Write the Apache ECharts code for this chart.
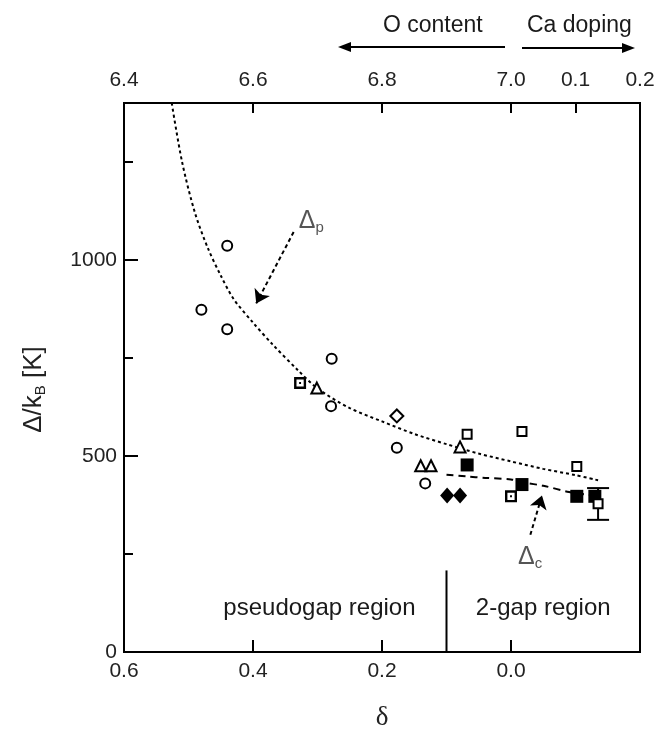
<!DOCTYPE html>
<html>
<head>
<meta charset="utf-8">
<script src="https://cdn.jsdelivr.net/npm/echarts@6/dist/echarts.min.js"></script>
<style>html,body{margin:0;padding:0;background:#fff}#main{width:661px;height:736px}</style>
</head>
<body>
<div id="main"></div>
<script>
const FONT = '"Liberation Sans", Arial, sans-serif';

// axis ticks
const deltaTicks = [0.6, 0.4, 0.2, 0.0];
const topLabels = [0.6, 0.4, 0.2, 0.0, -0.1, -0.2];   // O content 7-d, then Ca doping
const topTicks = [0.4, 0.2, 0.0, -0.1];
const yMajor = [0, 500, 1000];
const yMinor = [250, 750, 1250];

// Delta_p guide curve (dotted)
const gapP = [[0.526,1400],[0.51,1250],[0.49,1120],[0.47,1030],[0.45,960],[0.43,900],
  [0.40,840],[0.37,785],[0.33,718],[0.30,672],[0.25,622],[0.20,588],[0.15,556],
  [0.10,530],[0.05,506],[0.00,486],[-0.05,467],[-0.10,451],[-0.135,438]];
// Delta_c guide curve (dashed)
const gapC = [[0.10,452],[0.07,448],[0.04,444],[0.0,440],[-0.02,432],[-0.05,424],
  [-0.09,408],[-0.125,400]];

// measured points
const openCircles = [[0.44,1036],[0.48,873],[0.44,823],[0.278,748],[0.279,627],[0.177,521],[0.133,430]];
const openTriangles = [[0.301,673],[0.140,475],[0.124,475],[0.079,523]];
const openDiamonds = [[0.177,602]];
const openSquares = [[0.068,555],[-0.017,562],[-0.102,473],[-0.135,378]];
const dotSquares = [[0.327,686],[0.0,397]];
const filledSquares = [[0.068,477],[-0.017,427],[-0.102,397],[-0.13,397]];
const filledDiamonds = [[0.099,399],[0.079,399]];
const errorBars = [[-0.135,337,418]];

// region divider and annotations
const divider = [[0.1,0],[0.1,208]];
const regionLabels = [['pseudogap region',0.297,111],['2-gap region',-0.05,111]];
const gapLabels = [['p',0.3096,1099],['c',-0.0296,243]];
const gapArrows = [[[0.337,1071],[0.395,889]],[[-0.03,299],[-0.048,399]]];

const chart = echarts.init(document.getElementById('main'));

const dotSquarePath = 'path://M0 0H10V10H0Z M2 2V8H8V2Z M4.2 4.2H5.8V5.8H4.2Z';

function scatter(data, symbol, size, filled) {
  return {
    type: 'scatter', data: data, symbol: symbol, symbolSize: size,
    itemStyle: filled ? {color: '#000', opacity: 1} : {color: '#fff', borderColor: '#000', borderWidth: 2, opacity: 1},
    z: 5
  };
}

const option = {
  animation: false,
  backgroundColor: '#fff',
  textStyle: {fontFamily: FONT},
  grid: {left: 124, right: 21, top: 103, bottom: 80, show: true, borderColor: '#000', borderWidth: 2},
  xAxis: [{
    type: 'value', min: -0.2, max: 0.6, inverse: true, position: 'bottom',
    axisLine: {onZero: false, lineStyle: {color: '#000', width: 2}},
    axisTick: {inside: true, length: 12, lineStyle: {width: 2, color: '#000'}, customValues: deltaTicks},
    axisLabel: {customValues: deltaTicks, fontSize: 21, color: '#222', margin: 9, fontFamily: FONT,
      formatter: v => Math.abs(v).toFixed(1)},
    splitLine: {show: false},
    name: 'δ', nameLocation: 'middle', nameGap: 52,
    nameTextStyle: {fontFamily: '"Liberation Serif", "DejaVu Serif", serif', fontSize: 27, color: '#222'}
  }, {
    type: 'value', min: -0.2, max: 0.6, inverse: true, position: 'top',
    axisLine: {onZero: false, lineStyle: {color: '#000', width: 2}},
    axisTick: {inside: true, length: 10, lineStyle: {width: 2, color: '#000'}, customValues: topTicks},
    axisLabel: {customValues: topLabels, fontSize: 21, color: '#222', margin: 12, fontFamily: FONT,
      showMinLabel: true, showMaxLabel: true,
      formatter: v => v >= -0.001 ? (7 - v).toFixed(1) : (-v).toFixed(1)},
    splitLine: {show: false}
  }],
  yAxis: [{
    type: 'value', min: 0, max: 1400, position: 'left',
    axisLine: {show: true, onZero: false, lineStyle: {color: '#000', width: 2}},
    axisTick: {show: true, inside: true, length: 14, lineStyle: {width: 2, color: '#000'}, customValues: yMajor},
    axisLabel: {customValues: yMajor, fontSize: 21, color: '#222', margin: 7, fontFamily: FONT,
      formatter: v => String(v)},
    splitLine: {show: false},
    name: '{n|Δ/k}{s|B}{n| [K]}', nameLocation: 'middle', nameGap: 76, nameRotate: 90,
    nameTextStyle: {padding: [0, 24, 0, 0], rich: {
      n: {fontSize: 26, color: '#222', fontFamily: FONT},
      s: {fontSize: 15, color: '#222', fontFamily: FONT, padding: [13, 0, 0, 0]}
    }}
  }, {
    type: 'value', min: 0, max: 1400, position: 'left',
    axisLine: {show: false, onZero: false},
    axisTick: {show: true, inside: true, length: 9, lineStyle: {width: 2, color: '#000'}, customValues: yMinor},
    axisLabel: {show: false},
    splitLine: {show: false}
  }],
  series: [
    {type: 'line', data: gapP, smooth: 0.3, symbol: 'none', z: 3,
      lineStyle: {color: '#000', width: 2, type: [3, 3]},
      markLine: {silent: true, symbol: ['none', 'arrow'], symbolSize: 13, label: {show: false},
        lineStyle: {color: '#000', width: 2, type: [4, 3]},
        data: gapArrows.map(a => [{coord: a[0]}, {coord: a[1]}])}
    },
    {type: 'line', data: gapC, smooth: 0.3, symbol: 'none', z: 3,
      lineStyle: {color: '#000', width: 2, type: [7, 5]}},
    {type: 'line', data: divider, symbol: 'none', z: 3, lineStyle: {color: '#000', width: 2}},
    {type: 'custom', data: errorBars, z: 4,
      encode: {x: 0, y: [1, 2]},
      renderItem: function (params, api) {
        const x = api.value(0);
        const lo = api.coord([x, api.value(1)]);
        const hi = api.coord([x, api.value(2)]);
        const w = 11;
        const st = {stroke: '#000', lineWidth: 2};
        return {type: 'group', children: [
          {type: 'line', shape: {x1: hi[0], y1: hi[1], x2: lo[0], y2: lo[1]}, style: st},
          {type: 'line', shape: {x1: hi[0] - w, y1: hi[1], x2: hi[0] + w, y2: hi[1]}, style: st},
          {type: 'line', shape: {x1: lo[0] - w, y1: lo[1], x2: lo[0] + w, y2: lo[1]}, style: st}
        ]};
      }
    },
    scatter(openCircles, 'circle', 10, false),
    scatter(openTriangles, 'triangle', 11, false),
    scatter(openDiamonds, 'diamond', 13, false),
    scatter(filledSquares, 'rect', 13, true),
    scatter(filledDiamonds, 'diamond', [14, 16], true),
    scatter(openSquares, 'rect', 9, false),
    {type: 'scatter', data: dotSquares, symbol: dotSquarePath, symbolSize: 12, z: 5,
      itemStyle: {color: '#000', opacity: 1}},
    {type: 'scatter', symbolSize: 1, itemStyle: {color: 'rgba(0,0,0,0)', opacity: 1}, z: 6,
      data: regionLabels.map(r => ({name: r[0], value: [r[1], r[2]]})),
      label: {show: true, position: 'inside', formatter: p => p.name,
        fontSize: 24, color: '#1a1a1a', fontFamily: FONT}},
    {type: 'scatter', symbolSize: 1, itemStyle: {color: 'rgba(0,0,0,0)', opacity: 1}, z: 6,
      data: gapLabels.map(r => ({name: r[0], value: [r[1], r[2]]})),
      label: {show: true, position: 'inside', formatter: p => '{d|Δ}{s|' + p.name + '}',
        rich: {
          d: {fontSize: 25, color: '#555', fontFamily: FONT},
          s: {fontSize: 15, color: '#555', fontFamily: FONT, padding: [14, 0, 0, 0]}
        }}}
  ],
  graphic: [
    {type: 'text', left: 383, top: 14, style: {text: 'O content', font: '23px ' + FONT, fill: '#1a1a1a'}},
    {type: 'text', left: 527, top: 14, style: {text: 'Ca doping', font: '23px ' + FONT, fill: '#1a1a1a'}},
    {type: 'line', shape: {x1: 505, y1: 47, x2: 348, y2: 47}, style: {stroke: '#000', lineWidth: 2}},
    {type: 'polygon', shape: {points: [[338, 47], [351, 42], [351, 52]]}, style: {fill: '#000'}},
    {type: 'line', shape: {x1: 522, y1: 48, x2: 624, y2: 48}, style: {stroke: '#000', lineWidth: 2}},
    {type: 'polygon', shape: {points: [[635, 48], [622, 43], [622, 53]]}, style: {fill: '#000'}}
  ]
};

chart.setOption(option);
window.addEventListener('resize', () => chart.resize());
</script>
</body>
</html>
